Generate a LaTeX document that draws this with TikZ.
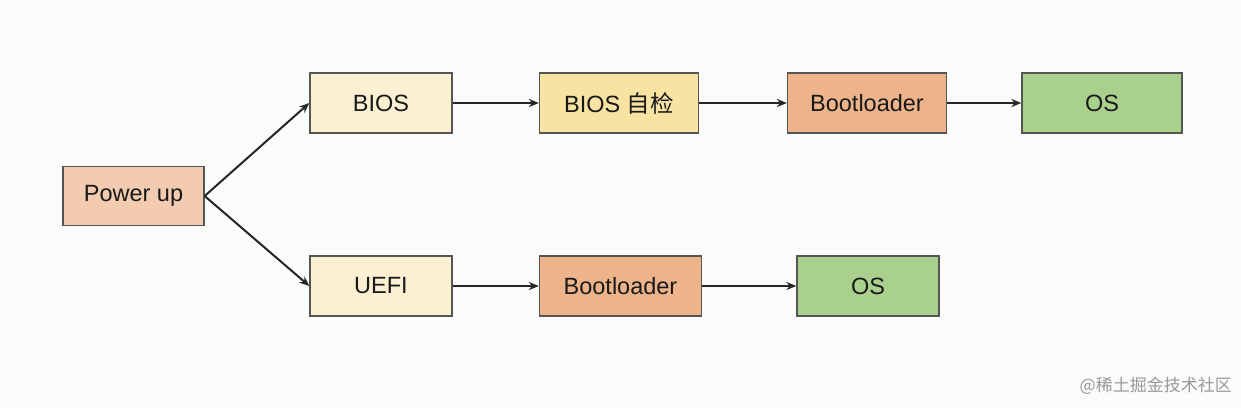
\documentclass[tikz,border=0pt]{standalone}
\usepackage{fontspec}
\setmainfont{Liberation Sans}
\newfontfamily\cjk{Noto Sans CJK SC}
\usetikzlibrary{arrows.meta}
\definecolor{bgc}{HTML}{FBFBFA}
\definecolor{powc}{HTML}{F2CBB0}
\definecolor{creamc}{HTML}{FCF0D3}
\definecolor{yelc}{HTML}{F8E3A2}
\definecolor{orc}{HTML}{EDB48C}
\definecolor{grc}{HTML}{AAD08E}
\definecolor{edgec}{HTML}{555555}
\tikzset{
  box/.style={draw=edgec, line width=1.3pt, inner sep=0pt, font=\fontsize{23.5}{27}\selectfont, text=black!90},
  conn/.style={line width=2pt, draw=black!85, -{Stealth[length=10pt,width=8pt]}},
}
\begin{document}
\begin{tikzpicture}[x=1pt,y=-1pt]
\fill[bgc] (0,0) rectangle (1241,408);
\useasboundingbox (0,0) rectangle (1241,408);
\node[box, fill=powc, minimum width=141pt, minimum height=59pt] (pow) at (133.5,196) {Power up};
\node[box, fill=creamc, minimum width=142pt, minimum height=60pt] (bios) at (381,103) {BIOS};
\node[box, fill=creamc, minimum width=142pt, minimum height=60pt] (uefi) at (381,286) {UEFI};
\node[box, fill=yelc, minimum width=159pt, minimum height=60pt] (chk) at (619,103) {BIOS {\cjk 自检}};
\node[box, fill=orc, minimum width=159pt, minimum height=60pt] (bl1) at (867,103) {Bootloader};
\node[box, fill=grc, minimum width=160pt, minimum height=60pt] (os1) at (1102,103) {OS};
\node[box, fill=orc, minimum width=162pt, minimum height=60pt] (bl2) at (620.5,286) {Bootloader};
\node[box, fill=grc, minimum width=142pt, minimum height=60pt] (os2) at (868,286) {OS};
\draw[conn] (pow.east) -- (bios.west);
\draw[conn] (pow.east) -- (uefi.west);
\draw[conn] (bios) -- (chk);
\draw[conn] (chk) -- (bl1);
\draw[conn] (bl1) -- (os1);
\draw[conn] (uefi) -- (bl2);
\draw[conn] (bl2) -- (os2);
\node[anchor=east, text=black!40, font=\cjk\fontsize{17}{20}\selectfont, inner sep=0pt] (wm) at (1232,386) {@稀土掘金技术社区};
\end{tikzpicture}
\end{document}
